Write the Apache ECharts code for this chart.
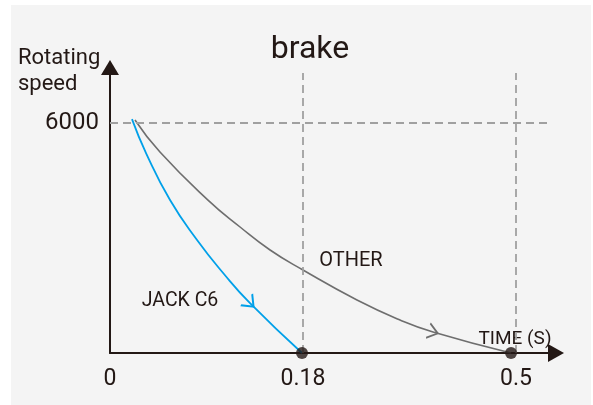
<!DOCTYPE html>
<html><head><meta charset="utf-8">
<script src="https://cdn.jsdelivr.net/npm/echarts@6/dist/echarts.min.js"></script>
<style>html,body{margin:0;padding:0;background:#fff}#c{width:593px;height:405px}</style>
</head><body><div id="c"></div><script>
// ---- data ----
const xTickValues = [0, 0.18, 0.5];          // seconds
const xTickLabels = ['0', '0.18', '0.5'];
const yTickValues = [6000];
const yTickLabels = ['6000'];
const jackTime  = [0.0205, 0.0336, 0.056, 0.0812, 0.1063, 0.1306, 0.1791];
const jackSpeed = [6100, 5217, 3990, 2948, 2061, 1300, 0];
const otherTime  = [0.0233, 0.0466, 0.0914, 0.1213, 0.1493, 0.18, 0.2611, 0.3257, 0.3753, 0.4925];
const otherSpeed = [6080, 5243, 3990, 3287, 2687, 2165, 1383, 861, 548, 0];

// schematic time axis: compressed after 0.18 s as in the reference drawing
const BREAK_T = 0.18, TAIL_RATIO = 0.621;
function pos(t) { return t <= BREAK_T ? t : BREAK_T + (t - BREAK_T) * TAIL_RATIO; }

const FONT = 'Roboto';
const INK = '#231815';
const xPositions = xTickValues.map(pos);
const X_MAX = 0.416, Y_MAX = 7448;

const jackData = jackTime.map((t, i) => [pos(t), jackSpeed[i]]);
const otherData = otherTime.map((t, i) => [pos(t), otherSpeed[i]]);
const JACK_ARROW = 5, OTHER_ARROW = 8;

const chart = echarts.init(document.getElementById('c'));
const dash = { type: [8, 5], color: '#a0a0a0', width: 1.8 };

function option(rotJ, rotO) {
  return {
    animation: false,
    grid: { left: 110, right: 37, top: 67.5, bottom: 52 },
    graphic: [
      { type: 'rect', z: -100, shape: { x: 11, y: 5, width: 580, height: 400 }, style: { fill: '#f4f4f4' } },
      { type: 'text', x: 310, y: 50, style: { text: 'brake', fontSize: 32, fontFamily: FONT, fill: INK, align: 'center', verticalAlign: 'middle' } },
      { type: 'text', x: 18, y: 45, style: { text: 'Rotating\nspeed', fontSize: 22, lineHeight: 26, fontFamily: FONT, fill: INK, align: 'left', verticalAlign: 'top' } },
      { type: 'text', x: 351, y: 261, style: { text: 'OTHER', fontSize: 20, fontFamily: FONT, fill: INK, align: 'center', verticalAlign: 'middle' } },
      { type: 'text', x: 180, y: 301, style: { text: 'JACK C6', fontSize: 19.5, fontFamily: FONT, fill: INK, align: 'center', verticalAlign: 'middle' } },
      { type: 'text', x: 515, y: 339, style: { text: 'TIME (S)', fontSize: 19, fontFamily: FONT, fill: INK, align: 'center', verticalAlign: 'middle' } }
    ],
    xAxis: {
      type: 'value', min: 0, max: X_MAX,
      axisLine: { show: true, lineStyle: { color: INK, width: 2 }, symbol: ['none', 'triangle'], symbolSize: [18, 16] },
      axisTick: { show: false }, splitLine: { show: false },
      axisLabel: {
        customValues: xPositions, fontSize: 23, fontFamily: FONT, color: INK, margin: 15,
        formatter: v => { const i = xPositions.findIndex(p => Math.abs(p - v) < 1e-6); return i >= 0 ? xTickLabels[i] : ''; }
      }
    },
    yAxis: {
      type: 'value', min: 0, max: Y_MAX,
      axisLine: { show: true, lineStyle: { color: INK, width: 2 }, symbol: ['none', 'triangle'], symbolSize: [18, 15] },
      axisTick: { show: false }, splitLine: { show: false },
      axisLabel: {
        customValues: yTickValues, fontSize: 24, fontFamily: FONT, color: INK, margin: 11,
        formatter: v => { const i = yTickValues.indexOf(v); return i >= 0 ? yTickLabels[i] : ''; }
      }
    },
    series: [
      {
        name: 'OTHER', type: 'line', data: otherData, smooth: 0.5, symbol: 'none', clip: false,
        lineStyle: { color: '#6e6e6e', width: 1.6 },
        markLine: {
          silent: true, symbol: 'none', label: { show: false }, lineStyle: dash,
          data: [
            [{ coord: [0, yTickValues[0]] }, { coord: [0.4104, yTickValues[0]] }],
            [{ coord: [xPositions[1], 0] }, { coord: [xPositions[1], 7304] }],
            [{ coord: [xPositions[2], 0] }, { coord: [xPositions[2], 7304] }]
          ]
        },
        markPoint: {
          silent: true, symbol: 'path://M0,0L10,7L0,14', symbolSize: [10, 15], symbolRotate: rotO,
          itemStyle: { color: 'rgba(0,0,0,0)', borderColor: '#6e6e6e', borderWidth: 1.6 }, label: { show: false },
          data: [{ coord: otherData[OTHER_ARROW] }]
        }
      },
      {
        name: 'JACK C6', type: 'line', data: jackData, smooth: 0.5, symbol: 'none', clip: false,
        lineStyle: { color: '#00a0e9', width: 1.8 },
        markPoint: {
          silent: true, symbol: 'path://M0,0L10,7L0,14', symbolSize: [10, 16], symbolRotate: rotJ,
          itemStyle: { color: 'rgba(0,0,0,0)', borderColor: '#00a0e9', borderWidth: 1.8 }, label: { show: false },
          data: [{ coord: jackData[JACK_ARROW] }]
        }
      },
      {
        name: 'ends', type: 'scatter', clip: false, symbolSize: 12, z: 5,
        itemStyle: { color: INK },
        data: [jackData[jackData.length - 1], otherData[otherData.length - 1]]
      }
    ]
  };
}

chart.setOption(option(0, 0));
function angleAt(data, i) {
  const a = chart.convertToPixel({ gridIndex: 0 }, data[i - 1]);
  const b = chart.convertToPixel({ gridIndex: 0 }, data[i + 1]);
  return Math.atan2(-(b[1] - a[1]), b[0] - a[0]) * 180 / Math.PI;
}
chart.setOption(option(angleAt(jackData, JACK_ARROW), angleAt(otherData, OTHER_ARROW)));
</script></body></html>
